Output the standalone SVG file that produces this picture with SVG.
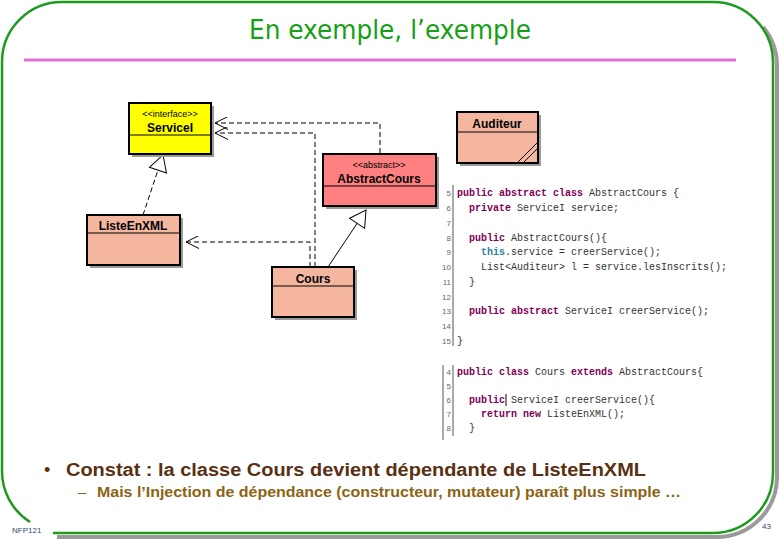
<svg xmlns="http://www.w3.org/2000/svg" width="780" height="540" viewBox="0 0 780 540">
<style>
.frame{fill:none;stroke:#1e9a1e;stroke-width:2.5}
.shadowline{fill:none;stroke:#9a9a9a;stroke-width:4}
.box{stroke:#000;stroke-width:2}
.bshadow{fill:#9a9a9a}
.div{stroke:#000;stroke-width:1}
.st{font-family:"Liberation Sans",Arial,sans-serif;font-size:9px;fill:#000;text-anchor:middle}
.nm{font-family:"Liberation Sans",Arial,sans-serif;font-size:12px;font-weight:bold;fill:#000;text-anchor:middle}
.dash{fill:none;stroke:#000;stroke-width:1;stroke-dasharray:5 3}
.solid{fill:none;stroke:#000;stroke-width:1}
.code{font-family:"Liberation Mono","DejaVu Sans Mono",monospace;font-size:10px;fill:#333}
.kw{fill:#7f0055;font-weight:bold}
.th{fill:#2f7fa8;font-weight:bold}
.ln{font-family:"Liberation Sans",Arial,sans-serif;font-size:8px;fill:#666;text-anchor:end}
.bar{stroke:#555;stroke-width:1}
</style>
<defs>
<marker id="open" viewBox="0 0 13 13" refX="13" refY="6.5" markerWidth="13" markerHeight="13" markerUnits="userSpaceOnUse" orient="auto">
<path d="M 0 0 L 13 6.5 L 0 13" fill="none" stroke="#000" stroke-width="1"/>
</marker>
<marker id="tri" viewBox="0 0 18 20" refX="17" refY="10" markerWidth="18" markerHeight="20" markerUnits="userSpaceOnUse" orient="auto">
<path d="M 1 1 L 17 10 L 1 19 Z" fill="#fff" stroke="#000" stroke-width="1"/>
</marker>
</defs>
<rect width="780" height="540" fill="#fff"/>
<g id="frame">
<path class="shadowline" d="M 763 27 A 60 60 0 0 1 777 66 L 777 477 A 60 60 0 0 1 717 537 L 57 537"/>
<path class="frame" d="M 53 533 L 713 533 A 60 60 0 0 0 773 473 L 773 62 A 60 60 0 0 0 713 2 L 62 2 A 60 60 0 0 0 2 62 L 2 470 A 60 60 0 0 0 30 522"/>
<line x1="24" y1="60" x2="736" y2="60" stroke="#e070d0" stroke-width="3"/>
</g>
<text id="title" x="390" y="39" text-anchor="middle" font-family="'DejaVu Sans',sans-serif" font-size="26" fill="#15a015" textLength="282" lengthAdjust="spacingAndGlyphs">En exemple, l’exemple</text>
<g id="connectors">
<polyline class="dash" points="380,153 380,123 215,123" marker-end="url(#open)"/>
<polyline class="dash" points="315,267 315,133 215,133" marker-end="url(#open)"/>
<polyline class="dash" points="310,267 310,242 186,242" marker-end="url(#open)"/>
<line class="dash" x1="143" y1="215" x2="163" y2="155" marker-end="url(#tri)"/>
<line class="solid" x1="328" y1="267" x2="366" y2="210" marker-end="url(#tri)"/>
</g>
<g id="ServiceI">
<rect class="bshadow" x="132" y="106" width="82" height="51"/>
<rect class="box" x="129" y="103" width="82" height="51" fill="#ffff00"/>
<line class="div" x1="129" y1="135" x2="211" y2="135"/>
<text class="st" x="170" y="117">&lt;&lt;interface&gt;&gt;</text>
<text class="nm" x="170" y="132">ServiceI</text>
</g>
<g id="AbstractCours">
<rect class="bshadow" x="326" y="157" width="113" height="52"/>
<rect class="box" x="323" y="154" width="113" height="52" fill="#ff8080"/>
<line class="div" x1="323" y1="186" x2="436" y2="186"/>
<text class="st" x="379" y="168">&lt;&lt;abstract&gt;&gt;</text>
<text class="nm" x="379" y="183">AbstractCours</text>
</g>
<g id="Auditeur">
<rect class="bshadow" x="460" y="115" width="81" height="51"/>
<rect class="box" x="457" y="112" width="81" height="51" fill="#f5b6a0"/>
<line class="div" x1="457" y1="132" x2="538" y2="132"/>
<text class="nm" x="497" y="128">Auditeur</text>
<line class="solid" x1="537" y1="143" x2="517" y2="163"/>
<line class="solid" x1="537" y1="149" x2="523" y2="163"/>
</g>
<g id="ListeEnXML">
<rect class="bshadow" x="90" y="218" width="93" height="50"/>
<rect class="box" x="87" y="215" width="93" height="50" fill="#f5b6a0"/>
<line class="div" x1="87" y1="233" x2="180" y2="233"/>
<text class="nm" x="133" y="230">ListeEnXML</text>
</g>
<g id="Cours">
<rect class="bshadow" x="275" y="270" width="82" height="50"/>
<rect class="box" x="272" y="267" width="82" height="50" fill="#f5b6a0"/>
<line class="div" x1="272" y1="286" x2="354" y2="286"/>
<text class="nm" x="313" y="283">Cours</text>
</g>
<g id="code1">
<line class="bar" x1="453" y1="185" x2="453" y2="346"/>
<text class="ln" x="451" y="196">5</text>
<text class="ln" x="451" y="211">6</text>
<text class="ln" x="451" y="226">7</text>
<text class="ln" x="451" y="241">8</text>
<text class="ln" x="451" y="255">9</text>
<text class="ln" x="451" y="270">10</text>
<text class="ln" x="451" y="285">11</text>
<text class="ln" x="451" y="300">12</text>
<text class="ln" x="451" y="314">13</text>
<text class="ln" x="451" y="329">14</text>
<text class="ln" x="451" y="344">15</text>
<text class="code" x="457" y="196"><tspan class="kw">public abstract class</tspan> AbstractCours {</text>
<text class="code" x="469" y="211"><tspan class="kw">private</tspan> ServiceI service;</text>
<text class="code" x="469" y="241"><tspan class="kw">public</tspan> AbstractCours(){</text>
<text class="code" x="481" y="255"><tspan class="th">this</tspan>.service = creerService();</text>
<text class="code" x="481" y="270">List&lt;Auditeur&gt; l = service.lesInscrits();</text>
<text class="code" x="469" y="285">}</text>
<text class="code" x="469" y="314"><tspan class="kw">public abstract</tspan> ServiceI creerService();</text>
<text class="code" x="457" y="344">}</text>
</g>
<g id="code2">
<line class="bar" x1="443" y1="365" x2="443" y2="440"/>
<line class="bar" x1="453" y1="365" x2="453" y2="436"/>
<text class="ln" x="451" y="375">4</text>
<text class="ln" x="451" y="389">5</text>
<text class="ln" x="451" y="403">6</text>
<text class="ln" x="451" y="417">7</text>
<text class="ln" x="451" y="431">8</text>
<text class="code" x="457" y="375"><tspan class="kw">public class</tspan> Cours <tspan class="kw">extends</tspan> AbstractCours{</text>
<text class="code" x="469" y="403"><tspan class="kw">public</tspan> ServiceI creerService(){</text>
<line x1="506" y1="394" x2="506" y2="406" stroke="#000" stroke-width="1"/>
<text class="code" x="481" y="417"><tspan class="kw">return new</tspan> ListeEnXML();</text>
<text class="code" x="469" y="431">}</text>
</g>
<g id="bullets">
<text x="44" y="476" font-family="'Liberation Sans',Arial,sans-serif" font-size="18" fill="#5a3012">•</text>
<text x="66" y="476" font-family="'Liberation Sans',Arial,sans-serif" font-size="18" font-weight="bold" fill="#5a3012" textLength="580" lengthAdjust="spacingAndGlyphs">Constat : la classe Cours devient dépendante de ListeEnXML</text>
<text x="78" y="497" font-family="'Liberation Sans',Arial,sans-serif" font-size="15" fill="#8c6414">–</text>
<text x="97" y="497" font-family="'Liberation Sans',Arial,sans-serif" font-size="15" font-weight="bold" fill="#8c6414" textLength="584" lengthAdjust="spacingAndGlyphs">Mais l’Injection de dépendance (constructeur, mutateur) paraît plus simple …</text>
</g>
<text id="footer-left" x="12" y="533" font-family="'Liberation Sans',Arial,sans-serif" font-size="8" fill="#2b4a7a">NFP121</text>
<text id="footer-right" x="762" y="529" font-family="'Liberation Sans',Arial,sans-serif" font-size="8" fill="#2b4a7a">43</text>
</svg>
